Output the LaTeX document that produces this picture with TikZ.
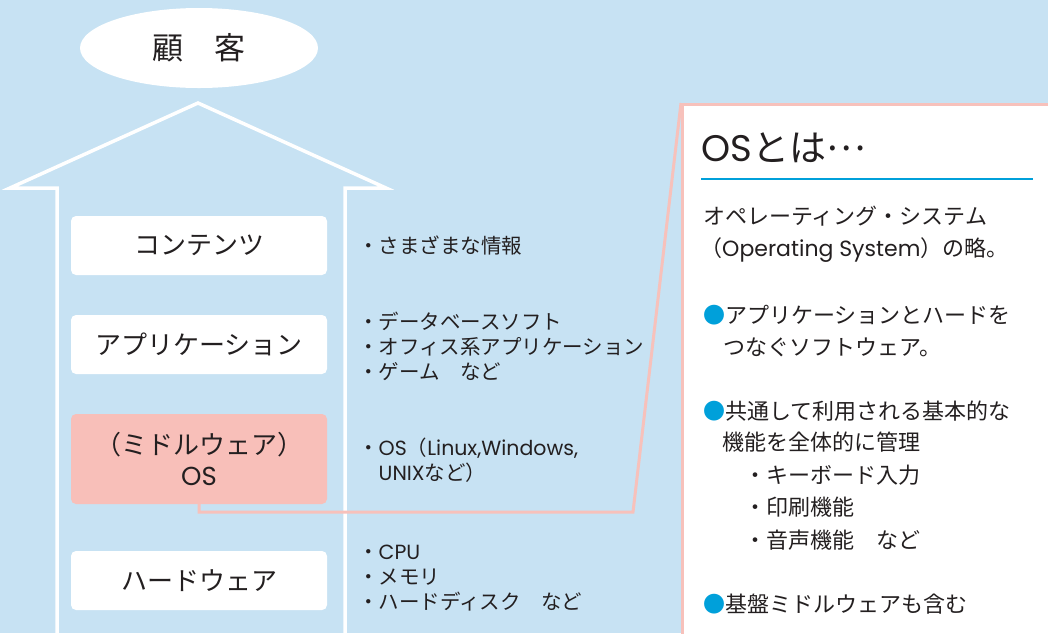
\documentclass[tikz,border=0pt]{standalone}
\usepackage{fontspec}
\setmainfont{Noto Sans CJK JP}
\newfontfamily\lat{Poppins}
\usetikzlibrary{shapes.geometric}
\definecolor{bg}{HTML}{C7E2F3}
\definecolor{pinkbox}{HTML}{F8BFB9}
\definecolor{pinkline}{HTML}{F7C1BB}
\definecolor{bluel}{HTML}{00A0DA}
\definecolor{ink}{HTML}{231F20}
\tikzset{
  layerbox/.style={rectangle, rounded corners=5pt, fill=white, minimum width=256pt, minimum height=59pt, inner sep=0pt, text=ink, font=\fontsize{26}{31}\selectfont, align=center},
  listtext/.style={anchor=west, inner sep=0pt, text=ink, align=left, font=\fontsize{20.5}{25}\selectfont},
  calltext/.style={anchor=west, inner sep=0pt, text=ink, font=\fontsize{22}{32}\selectfont},
}
\begin{document}
\begin{tikzpicture}[x=1pt,y=-1pt]
\useasboundingbox (0,0) rectangle (1048,633);
\fill[bg] (0,0) rectangle (1048,633);
\clip (0,0) rectangle (1048,633);
% customer ellipse
\node[ellipse, fill=white, minimum width=238pt, minimum height=80pt, inner sep=0pt, text=ink, font=\fontsize{31}{36}\selectfont] (cust) at (199,48) {顧　客};
% arrow outline
\draw[white, line width=3.5pt, line join=miter] (57,645) -- (57,188) -- (10,188) -- (198,103) -- (386,188) -- (345,188) -- (345,645);
% layer boxes
\node[layerbox] (cont) at (199,245.5) {コンテンツ};
\node[layerbox] (app) at (199,344.5) {アプリケーション};
\node[layerbox, fill=pinkbox, minimum height=90pt] (os) at (199,459) {（ミドルウェア）\\{\lat OS}};
\node[layerbox] (hw) at (199,580.5) {ハードウェア};
% lists
\node[listtext] (l1) at (358,245) {・さまざまな情報};
\node[listtext] (l2) at (358,346) {・データベースソフト\\・オフィス系アプリケーション\\・ゲーム　など};
\node[listtext] (l3) at (358,460) {・{\lat OS}（{\lat Linux,Windows,}\\　{\lat UNIX}など）};
\node[listtext] (l4) at (358,578) {・{\lat CPU}\\・メモリ\\・ハードディスク　など};
% callout box
\node[rectangle, draw=pinkline, line width=3pt, fill=white, minimum width=400pt, minimum height=560pt, anchor=north west, inner sep=0pt] (call) at (681,103) {};
% connector
\coordinate (bend) at (633,512);
\draw[pinkline, line width=3pt, line join=miter] (os.south) |- (bend) -- (call.north west);
% callout contents
\node[anchor=west, inner sep=0pt, text=ink, font=\fontsize{37}{40}\selectfont] (title) at (701,148) {{\lat OS}とは\raisebox{0.3em}{…}};
\draw[bluel, line width=2.5pt] (701,179) -- (1033,179);
\node[calltext] (c1) at (703,216) {オペレーティング・システム};
\node[calltext] (c2) at (700,250) {（{\lat Operating System}）の略。};
\node[calltext] (c3) at (703,315) {\textcolor{bluel}{●}アプリケーションとハードを};
\node[calltext] (c4) at (723,347) {つなぐソフトウェア。};
\node[calltext] (c5) at (703,411) {\textcolor{bluel}{●}共通して利用される基本的な};
\node[calltext] (c6) at (722,442) {機能を全体的に管理};
\node[calltext] (c7) at (744,475) {・キーボード入力};
\node[calltext] (c8) at (744,507) {・印刷機能};
\node[calltext] (c9) at (744,540) {・音声機能　など};
\node[calltext] (c10) at (703,604) {\textcolor{bluel}{●}基盤ミドルウェアも含む};
\end{tikzpicture}
\end{document}
